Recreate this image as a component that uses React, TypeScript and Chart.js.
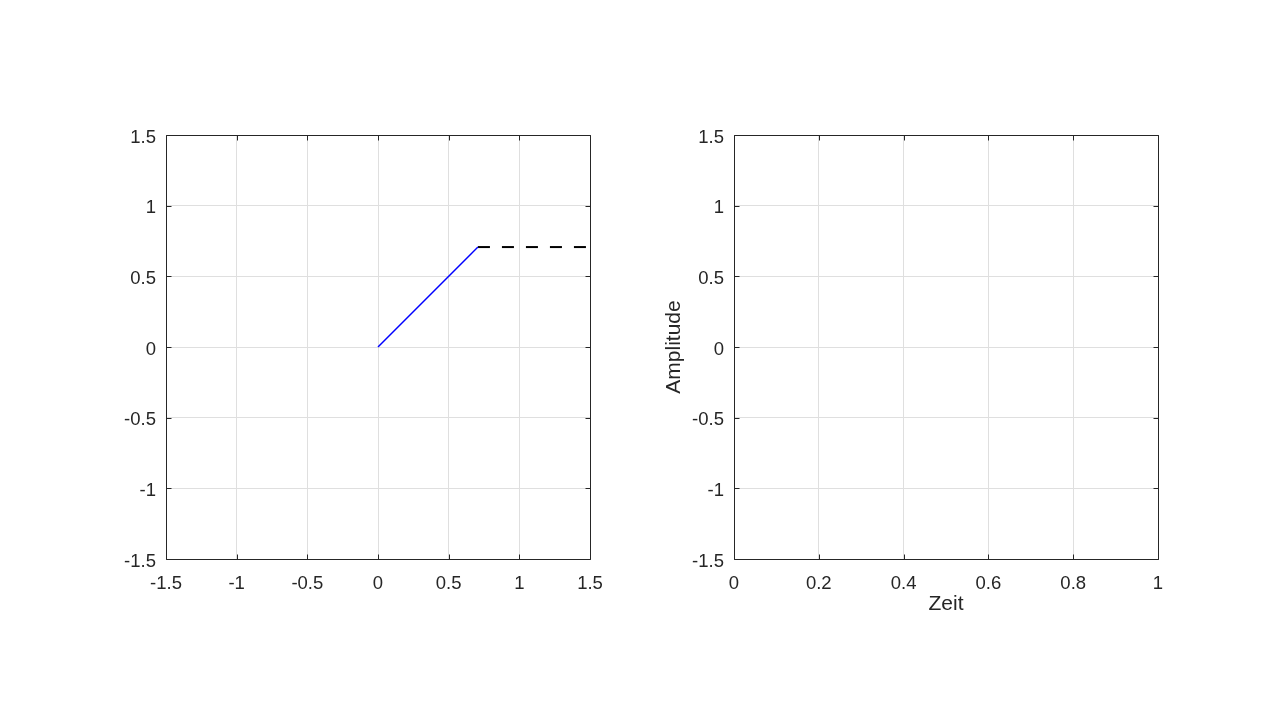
import React, { useEffect, useRef } from "react";
import { Chart, registerables } from "chart.js";

Chart.register(...registerables);

// ---- data ----
const leftXLimits = [-1.5, 1.5];
const leftYLimits = [-1.5, 1.5];
const leftStep = 0.5;
const rightXLimits = [0, 1];
const rightXStep = 0.2;
const rightYLimits = [-1.5, 1.5];
const rightYStep = 0.5;

const riseX = [0, 0.7071];
const riseY = [0, 0.7071];
const holdX = [0.7071, 1.5];
const holdY = [0.7071, 0.7071];

const rightXLabel = "Zeit";
const rightYLabel = "Amplitude";

// ---- style ----
const FONT = "'Liberation Sans', Arial, Helvetica, sans-serif";
const TEXT = "#262626";
const GRID = "#dfdfdf";

const fmt = (v: any) => String(Math.round(Number(v) * 1000) / 1000);

const framePlugin = {
  id: "frame",
  afterDatasetsDraw(chart: any) {
    const { ctx, chartArea } = chart;
    const { left, right, top, bottom } = chartArea;
    const xs = chart.scales.x;
    const ys = chart.scales.y;
    const L = Math.round(left) + 0.5;
    const R = Math.round(right) + 0.5;
    const T = Math.round(top) + 0.5;
    const B = Math.round(bottom) + 0.5;
    ctx.save();
    ctx.strokeStyle = TEXT;
    ctx.lineWidth = 1;
    ctx.beginPath();
    ctx.rect(L, T, R - L, B - T);
    const tl = 5;
    xs.ticks.forEach((t: any) => {
      const px = Math.min(R, Math.max(L, Math.round(xs.getPixelForValue(t.value)) + 0.5));
      ctx.moveTo(px, B);
      ctx.lineTo(px, B - tl);
      ctx.moveTo(px, T);
      ctx.lineTo(px, T + tl);
    });
    ys.ticks.forEach((t: any) => {
      const py = Math.min(B, Math.max(T, Math.round(ys.getPixelForValue(t.value)) + 0.5));
      ctx.moveTo(L, py);
      ctx.lineTo(L + tl, py);
      ctx.moveTo(R, py);
      ctx.lineTo(R - tl, py);
    });
    ctx.stroke();
    ctx.restore();
  },
};

function makeConfig(opts: any) {
  const {
    xLim, yLim, xStep, yStep, datasets, padding, yWidth, xHeight, xTitle, yTitle,
  } = opts;
  return {
    type: "line",
    data: { datasets },
    options: {
      animation: false,
      responsive: false,
      devicePixelRatio: 1,
      layout: { padding },
      plugins: { legend: { display: false }, tooltip: { enabled: false } },
      elements: { point: { radius: 0 } },
      scales: {
        x: {
          type: "linear",
          min: xLim[0],
          max: xLim[1],
          afterFit: (s: any) => { s.height = xHeight; },
          border: { display: false },
          grid: { color: GRID, lineWidth: 1, drawTicks: false },
          ticks: {
            stepSize: xStep,
            padding: 14,
            color: TEXT,
            font: { family: FONT, size: 18.5 },
            maxRotation: 0,
            callback: fmt,
          },
          title: xTitle
            ? { display: true, text: xTitle, color: TEXT, padding: 0, font: { family: FONT, size: 21 } }
            : { display: false },
        },
        y: {
          type: "linear",
          min: yLim[0],
          max: yLim[1],
          afterFit: (s: any) => { s.width = yWidth; },
          border: { display: false },
          grid: { color: GRID, lineWidth: 1, drawTicks: false },
          ticks: {
            stepSize: yStep,
            padding: 10,
            labelOffset: 2.5,
            color: TEXT,
            font: { family: FONT, size: 18.5 },
            callback: fmt,
          },
          title: yTitle
            ? { display: true, text: yTitle, color: TEXT, padding: 0, font: { family: FONT, size: 21 } }
            : { display: false },
        },
      },
    },
    plugins: [framePlugin],
  };
}

export default function App() {
  const leftRef = useRef<HTMLCanvasElement>(null);
  const rightRef = useRef<HTMLCanvasElement>(null);

  useEffect(() => {
    const leftData = [
      {
        data: riseX.map((x, i) => ({ x, y: riseY[i] })),
        borderColor: "#0000ff",
        borderWidth: 1.5,
        fill: false,
        tension: 0,
      },
      {
        data: holdX.map((x, i) => ({ x, y: holdY[i] })),
        borderColor: "#000000",
        borderWidth: 2,
        borderDash: [12, 12],
        fill: false,
        tension: 0,
      },
    ];
    const c1 = new Chart(leftRef.current as any, makeConfig({
      xLim: leftXLimits,
      yLim: leftYLimits,
      xStep: leftStep,
      yStep: leftStep,
      datasets: leftData,
      padding: { left: 106, right: 50, top: 135, bottom: 121 },
      yWidth: 60,
      xHeight: 40,
    }) as any);
    const c2 = new Chart(rightRef.current as any, makeConfig({
      xLim: rightXLimits,
      yLim: rightYLimits,
      xStep: rightXStep,
      yStep: rightYStep,
      datasets: [],
      padding: { left: 22, right: 122, top: 135, bottom: 103 },
      yWidth: 72,
      xHeight: 58,
      xTitle: rightXLabel,
      yTitle: rightYLabel,
    }) as any);
    return () => {
      c1.destroy();
      c2.destroy();
    };
  }, []);

  return (
    <div style={{ position: "fixed", left: 0, top: 0, width: 1280, height: 720, background: "#fff" }}>
      <canvas ref={leftRef} width={640} height={720} style={{ position: "absolute", left: 0, top: 0 }} />
      <canvas ref={rightRef} width={640} height={720} style={{ position: "absolute", left: 640, top: 0 }} />
    </div>
  );
}
